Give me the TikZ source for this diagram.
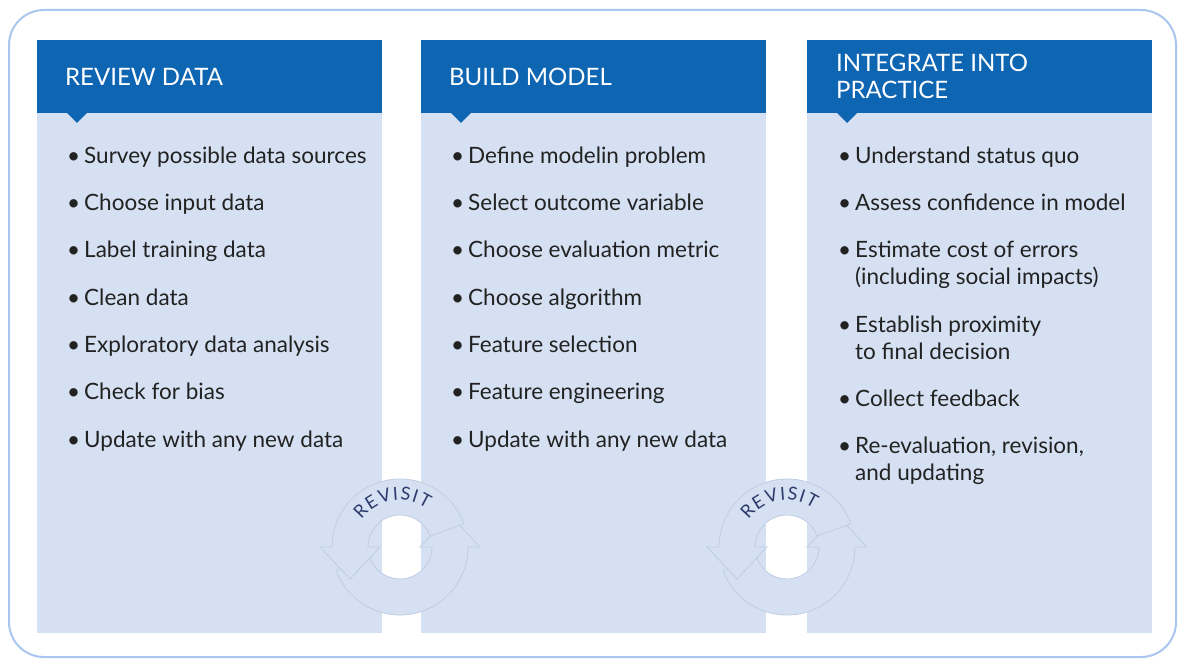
\documentclass[tikz,border=0pt]{standalone}
\usepackage{fontspec}
\setmainfont{Lato}
\usetikzlibrary{positioning,decorations.text}

\definecolor{headblue}{HTML}{0E65B2}
\definecolor{panelblue}{HTML}{D5E1F2}
\definecolor{outerblue}{HTML}{A9C6EE}
\definecolor{itemgray}{HTML}{222222}
\definecolor{arcline}{HTML}{BFCDE4}
\definecolor{navy}{HTML}{2C3B6C}

\tikzset{
  revisit/.pic={
    % lower arrow, head at the right pointing up
    \path[fill=panelblue, draw=arcline, line width=0.8pt]
      (200:68) arc (200:360:68) -- (80,0) -- (50,32) -- (20,0) -- (32,0)
      arc (360:200:32) -- cycle;
    % upper arrow, head at the left pointing down
    \path[fill=panelblue, draw=arcline, line width=0.8pt]
      (20:68) arc (20:180:68) -- (-80,0) -- (-50,-32) -- (-20,0) -- (-32,0)
      arc (180:20:32) -- cycle;
    \path[decorate, decoration={text along path, text align=center,
      text={|\fontsize{18}{18}\selectfont\color{navy}|{R\kern1.5pt}{E\kern1.5pt}{V\kern1.5pt}{I\kern1.5pt}{S\kern1.5pt}{I\kern1.5pt}T}}]
      (165:47) arc (165:35:47);
  }
}

\begin{document}
\begin{tikzpicture}[x=1pt, y=1pt,
  panel/.style={fill=panelblue, anchor=north west, inner sep=0pt,
    minimum width=345pt, minimum height=593pt},
  header/.style={fill=headblue, anchor=north west, inner sep=0pt,
    minimum width=345pt, minimum height=73pt},
  title/.style={anchor=base west, inner sep=0pt, text=white,
    font=\fontsize{24}{27}\selectfont},
  dot/.style={anchor=base west, inner sep=0pt, text=itemgray,
    font=\fontsize{22.5}{27}\selectfont},
  item/.style={anchor=base west, inner sep=0pt, text=itemgray,
    font=\fontsize{22.5}{27}\selectfont}]

\useasboundingbox (0,0) rectangle (1181,659);
\draw[outerblue, line width=2pt, rounded corners=35pt] (9,2) rectangle (1176,649);

% three panels
\node[panel] (p1) at (37,619) {};
\node[panel] (p2) at (421,619) {};
\node[panel] (p3) at (807,619) {};
\node[header] (h1) at (37,619) {};
\node[header] (h2) at (421,619) {};
\node[header] (h3) at (807,619) {};
\fill[headblue] (67,546) -- (77,536) -- (87,546) -- cycle;
\fill[headblue] (451,546) -- (461,536) -- (471,546) -- cycle;
\fill[headblue] (837,546) -- (847,536) -- (857,546) -- cycle;

\node[title] (t1) at (65,573) {REVIEW DATA};
\node[title] (t2) at (449,573) {BUILD MODEL};
\node[title] (t3a) at (836,587) {INTEGRATE INTO};
\node[title] (t3b) at (836,560) {PRACTICE};

% review data
\foreach \y/\t [count=\i] in {495/Survey possible data sources, 448/Choose input data,
  401/Label training data, 353/Clean data, 306/Exploratory data analysis,
  259/Check for bias, 211/Update with any new data}{
  \node[dot] (d1-\i) at (67,\y) {\textbullet};
  \node[item] (a1-\i) at (84,\y) {\t};
}

% build model
\foreach \y/\t [count=\i] in {495/Define modelin problem, 448/Select outcome variable,
  401/Choose evaluation metric, 353/Choose algorithm, 306/Feature selection,
  259/Feature engineering, 211/Update with any new data}{
  \node[dot] (d2-\i) at (451,\y) {\textbullet};
  \node[item] (a2-\i) at (468,\y) {\t};
}

% integrate into practice
\foreach \y/\t [count=\i] in {495/Understand status quo, 448/Assess confidence in model,
  401/Estimate cost of errors, 326/Establish proximity,
  252/Collect feedback, 205/{Re-evaluation, revision,}}{
  \node[dot] (d3-\i) at (838,\y) {\textbullet};
  \node[item] (a3-\i) at (855,\y) {\t};
}
\node[item] (b3-3) at (855,374) {(including social impacts)};
\node[item] (b3-4) at (855,299) {to final decision};
\node[item] (b3-6) at (855,178) {and updating};

\pic (r1) at (400,112) {revisit};
\pic (r2) at (787,112) {revisit};

\end{tikzpicture}
\end{document}
